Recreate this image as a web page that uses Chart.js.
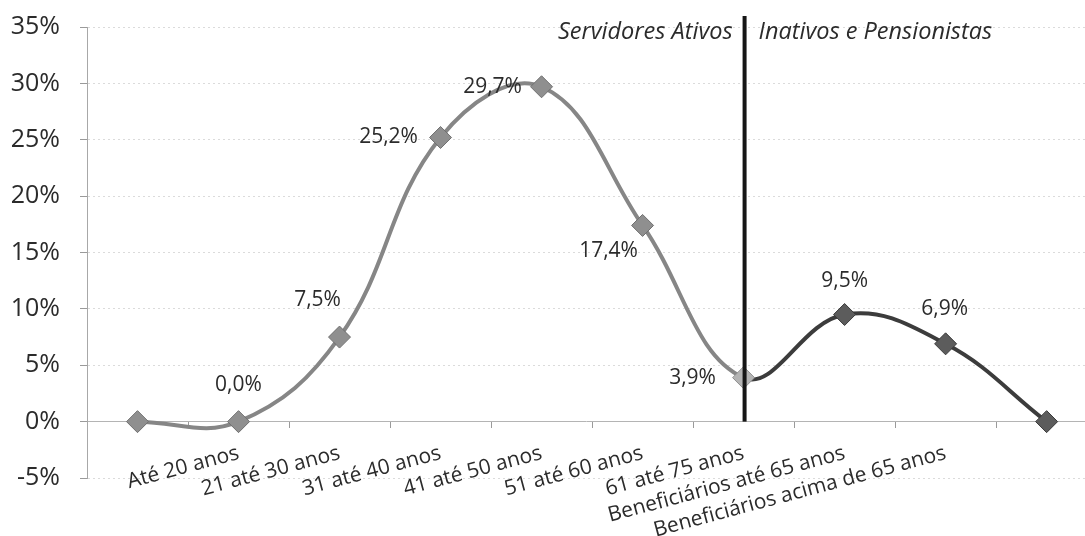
<!DOCTYPE html>
<html>
<head>
<meta charset="utf-8">
<script src="https://cdn.jsdelivr.net/npm/chart.js@4.4.0/dist/chart.umd.min.js"></script>
<style>
	html, body { margin: 0; padding: 0; background: #fff; overflow: hidden; }
	canvas { display: block; }
</style>
</head>
<body>
<canvas id="myChart" width="1085" height="536"></canvas>
<script>
// dados do gráfico
const faixas = ['', 'Até 20 anos', '21 até 30 anos', '31 até 40 anos', '41 até 50 anos', '51 até 60 anos', '61 até 75 anos', 'Beneficiários até 65 anos', 'Beneficiários acima de 65 anos', ''];
const percentuais = [0, 0.0, 7.5, 25.2, 29.7, 17.4, 3.9, 9.5, 6.9, 0];
const yTicks = [-5, 0, 5, 10, 15, 20, 25, 30, 35];
const divisao = 6;
const grupoAtivos = 'Servidores Ativos';
const grupoInativos = 'Inativos e Pensionistas';

// onde fica cada rótulo de valor em relação ao ponto
const deslocamentos = [null, [0, -37], [-22, -37], [-52, 0], [-49, 0], [-34, 26], [-51, 0], [0, -33], [-1, -35], null];

const fonte = '"Open Sans", sans-serif';

const anotacoes = {
	id: 'anotacoes',
	afterDatasetsDraw(chart) {
		const ctx = chart.ctx;
		const x = chart.scales.x;
		const y = chart.scales.y;
		const meta = chart.getDatasetMeta(0);
		ctx.save();
		ctx.font = '21px ' + fonte;
		ctx.fillStyle = '#2b2b2b';
		ctx.textAlign = 'center';
		ctx.textBaseline = 'middle';
		meta.data.forEach((pt, i) => {
			const off = deslocamentos[i];
			if (!off) return;
			ctx.fillText(percentuais[i].toFixed(1).replace('.', ',') + '%', pt.x + off[0], pt.y + off[1]);
		});

		const lx = x.getPixelForValue(divisao);
		const topo = chart.chartArea.top - 11;
		ctx.fillStyle = '#161616';
		ctx.fillRect(lx - 1, topo, 4, y.getPixelForValue(0) - topo);

		ctx.font = 'italic 23.5px ' + fonte;
		ctx.fillStyle = '#2b2b2b';
		ctx.textAlign = 'right';
		ctx.fillText(grupoAtivos, lx - 11, 32);
		ctx.textAlign = 'left';
		ctx.fillText(grupoInativos, lx + 15, 32);
		ctx.restore();
	}
};

const ctx = document.getElementById('myChart');
const myChart = new Chart(ctx, {
	type: 'line',
	data: {
		datasets: [{
			data: percentuais.map((v, i) => ({ x: i, y: v })),
			borderWidth: 4,
			tension: 0.4,
			segment: {
				borderColor: c => c.p0DataIndex >= divisao ? '#3c3c3c' : '#868686'
			},
			pointStyle: 'rectRot',
			pointRadius: 11,
			pointBorderWidth: 1,
			pointBackgroundColor: percentuais.map((v, i) => i < divisao ? '#8f8f8f' : (i === divisao ? '#b4b4b4' : '#5c5c5c')),
			pointBorderColor: percentuais.map((v, i) => i < divisao ? '#707070' : (i === divisao ? '#909090' : '#3a3a3a'))
		}]
	},
	options: {
		responsive: false,
		animation: false,
		layout: {
			autoPadding: false,
			padding: { top: 27, left: 0, right: 0, bottom: 58 }
		},
		plugins: {
			legend: { display: false },
			tooltip: { enabled: false }
		},
		scales: {
			x: {
				type: 'linear',
				min: -0.5,
				max: 9.38,
				position: { y: 0 },
				afterBuildTicks: s => { s.ticks = faixas.map((f, i) => ({ value: i })); },
				grid: {
					drawOnChartArea: false,
					drawTicks: true,
					tickLength: 6,
					tickColor: '#9a9a9a',
					offset: true
				},
				border: { display: true, color: '#b4b4b4', width: 1 },
				ticks: {
					autoSkip: false,
					minRotation: 15,
					maxRotation: 15,
					padding: 13,
					color: '#2b2b2b',
					font: { family: fonte, size: 21 },
					callback: v => faixas[v] || ''
				}
			},
			y: {
				min: -5,
				max: 35,
				afterFit: s => { s.width = 87; s.paddingTop = 10; s.paddingBottom = 10; },
				afterBuildTicks: s => { s.ticks = yTicks.map(v => ({ value: v })); },
				grid: {
					color: 'rgba(0,0,0,0.14)',
					tickColor: '#9a9a9a',
					tickLength: 7,
					drawTicks: true
				},
				border: { display: true, color: '#a8a8a8', width: 1, dash: [2, 3] },
				ticks: {
					padding: 20,
					color: '#2b2b2b',
					font: { family: fonte, size: 25 },
					callback: v => v + '%'
				}
			}
		}
	},
	plugins: [anotacoes]
});
</script>
</body>
</html>
